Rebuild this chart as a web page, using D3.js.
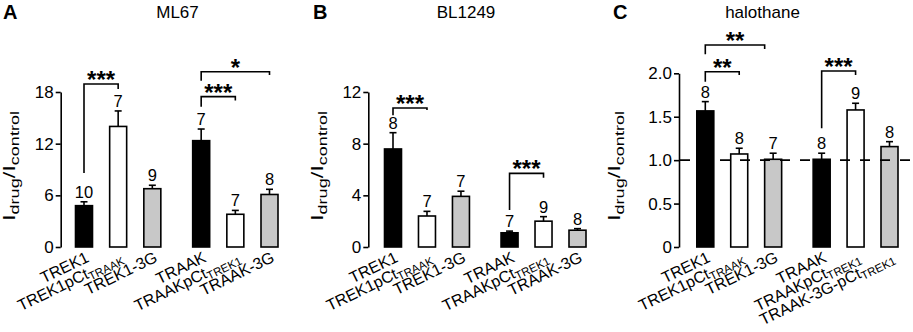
<!DOCTYPE html>
<html><head><meta charset="utf-8">
<script src="https://cdn.jsdelivr.net/npm/d3@7"></script>
<style>
body{margin:0;background:#fff;}
svg{display:block;font-family:"Liberation Sans",Arial,sans-serif;}
</style></head>
<body><svg id="c" width="913" height="332"></svg>
<script>
// ---- data ----
const labelMain = ["TREK1","TREK1pCt","TREK1-3G","TRAAK","TRAAKpCt","TRAAK-3G"];
const labelSubAB = ["","TRAAK","","","TREK1",""];
const labelMainC = ["TREK1","TREK1pCt","TREK1-3G","TRAAK","TRAAKpCt","TRAAK-3G-pCt"];
const labelSubC = ["","TRAAK","","","TREK1","TREK1"];
const fills = ["#000","#fff","#c8c8c8","#000","#fff","#c8c8c8"];

const mlValues = [4.8, 14.0, 6.77, 12.35, 3.8, 6.1];
const mlErrors = [0.45, 1.8, 0.4, 1.35, 0.45, 0.6];
const mlN = [10, 7, 9, 7, 7, 8];
const mlTicks = [0, 6, 12, 18];
const mlTickLabels = ["0","6","12","18"];
const mlBrackets = [
  {from:0, to:1, y:18.93, left:8.6, right:18.35, stars:"***"},
  {from:3, to:4, y:17.46, left:16.3, right:17.0, stars:"***"},
  {from:3, to:5, y:20.36, left:19.3, right:19.97, stars:"*"}
];

const blValues = [7.59, 2.4, 3.92, 1.1, 2.0, 1.3];
const blErrors = [1.26, 0.36, 0.4, 0.13, 0.35, 0.12];
const blN = [8, 7, 7, 7, 9, 8];
const blTicks = [0, 4, 8, 12];
const blTickLabels = ["0","4","8","12"];
const blBrackets = [
  {from:0, to:1, y:10.76, left:10.2, right:10.6, stars:"***"},
  {from:3, to:4, y:5.7, left:2.86, right:5.36, stars:"***"}
];

const haloValues = [1.567, 1.071, 1.01, 1.01, 1.578, 1.156];
const haloErrors = [0.107, 0.066, 0.07, 0.07, 0.077, 0.057];
const haloN = [8, 8, 7, 8, 9, 8];
const haloTicks = [0, 0.5, 1.0, 1.5, 2.0];
const haloTickLabels = ["0","0.5","1.0","1.5","2.0"];
const haloBrackets = [
  {from:0, to:1.75, y:2.326, left:2.22, right:2.28, stars:"**"},
  {from:0, to:1, y:2.018, left:1.903, right:1.98, stars:"**"},
  {from:3, to:4, y:2.026, left:1.367, right:1.98, stars:"***"}
];
const haloRef = 1.0;

// ---- drawing ----
const svg = d3.select("#c");
const FONT = '"Liberation Sans",Arial,sans-serif';
const GROUP_GAP = 0.43;
const pos = i => i + (i >= 3 ? GROUP_GAP : 0);
const bracketPos = i => i + (i >= 2.9 ? GROUP_GAP : 0);

function panel(cfg){
  const g = svg.append("g");
  const y = d3.scaleLinear().domain([0, cfg.ticks[cfg.ticks.length-1]]).range([247, cfg.yTop]);
  const x = d3.scaleLinear().domain([0, pos(5)]).range([cfg.x0, cfg.x5]);
  const bw = 17;

  // letter and title
  g.append("text").attr("x", cfg.letterX).attr("y", 18.5).attr("font-size", 20)
    .attr("font-weight", "bold").text(cfg.letter);
  g.append("text").attr("x", cfg.titleX).attr("y", 17.5).attr("font-size", 17)
    .attr("text-anchor", "middle").text(cfg.title);

  // axis
  const ax = g.append("g").attr("transform", `translate(${cfg.axisX},0)`)
    .call(d3.axisLeft(y).tickValues(cfg.ticks).tickFormat((d,i)=>cfg.tickLabels[i])
      .tickSize(5).tickSizeOuter(0).tickPadding(2));
  ax.select(".domain").attr("stroke-width", 1.6);
  ax.selectAll(".tick line").attr("stroke-width", 1.6);
  ax.selectAll(".tick text").attr("font-size", 17).attr("font-family", FONT).attr("fill","#000");

  // y label
  const yl = g.append("text")
    .attr("transform", `translate(${cfg.axisX - cfg.ylOff},166) rotate(-90)`)
    .attr("text-anchor", "middle").attr("font-size", 17)
    .attr("textLength", 110).attr("lengthAdjust", "spacingAndGlyphs");
  yl.append("tspan").text("I");
  yl.append("tspan").attr("font-size", 13).attr("baseline-shift", "-4").text("drug");
  yl.append("tspan").text("/I");
  yl.append("tspan").attr("font-size", 13).attr("baseline-shift", "-4").text("control");

  const idx = d3.range(6);
  // bars
  g.selectAll("rect.bar").data(idx).join("rect")
    .attr("x", i => x(pos(i)) - bw/2).attr("width", bw)
    .attr("y", i => y(cfg.values[i])).attr("height", i => y(0) - y(cfg.values[i]))
    .attr("fill", i => fills[i]).attr("stroke", "#000").attr("stroke-width", 1.6);
  // error bars
  idx.forEach(i => {
    const cx = x(pos(i)), yt = y(cfg.values[i] + cfg.errors[i]);
    g.append("line").attr("x1", cx).attr("x2", cx).attr("y1", y(cfg.values[i])).attr("y2", yt)
      .attr("stroke", "#000").attr("stroke-width", 1.6);
    g.append("line").attr("x1", cx-3.5).attr("x2", cx+3.5).attr("y1", yt).attr("y2", yt)
      .attr("stroke", "#000").attr("stroke-width", 1.6);
    g.append("text").attr("x", cx).attr("y", yt - 4).attr("text-anchor", "middle")
      .attr("font-size", 16.5).text(cfg.n[i]);
  });

  // reference line
  if (cfg.ref !== undefined) {
    g.append("line").attr("x1", cfg.axisX + 1).attr("x2", 913)
      .attr("y1", y(cfg.ref)).attr("y2", y(cfg.ref))
      .attr("stroke", "#000").attr("stroke-width", 1.6).attr("stroke-dasharray", "10,10");
  }

  // x labels
  idx.forEach(i => {
    const cx = x(pos(i));
    const t = g.append("text")
      .attr("transform", `translate(${cx + 6},261) rotate(-26)`)
      .attr("text-anchor", "end").attr("font-size", 16);
    t.append("tspan").text(cfg.labels[i]);
    if (cfg.subs[i]) t.append("tspan").attr("font-size", 11.5).attr("baseline-shift", "-3").text(cfg.subs[i]);
  });

  // significance brackets
  cfg.brackets.forEach(b => {
    const xl = x(bracketPos(b.from)), xr = x(bracketPos(b.to));
    g.append("path")
      .attr("d", `M${xl},${y(b.left)}V${y(b.y)}H${xr}V${y(b.right)}`)
      .attr("fill", "none").attr("stroke", "#000").attr("stroke-width", 1.6);
    g.append("text").attr("x", (xl + xr) / 2).attr("y", y(b.y) + 4)
      .attr("text-anchor", "middle").attr("font-size", 24).attr("font-weight", "bold")
      .text(b.stars);
  });
}

panel({letter:"A", letterX:3, title:"ML67", titleX:177.5, axisX:60.7, ylOff:46,
  yTop:92, x0:84, x5:269.5, ticks:mlTicks, tickLabels:mlTickLabels,
  values:mlValues, errors:mlErrors, n:mlN, brackets:mlBrackets,
  labels:labelMain, subs:labelSubAB});
panel({letter:"B", letterX:313, title:"BL1249", titleX:466, axisX:368.3, ylOff:45.5,
  yTop:92, x0:393, x5:577.5, ticks:blTicks, tickLabels:blTickLabels,
  values:blValues, errors:blErrors, n:blN, brackets:blBrackets,
  labels:labelMain, subs:labelSubAB});
panel({letter:"C", letterX:613, title:"halothane", titleX:762.5, axisX:679, ylOff:59,
  yTop:73.3, x0:705.3, x5:889.5, ticks:haloTicks, tickLabels:haloTickLabels,
  values:haloValues, errors:haloErrors, n:haloN, brackets:haloBrackets,
  labels:labelMainC, subs:labelSubC, ref:haloRef});
</script></body></html>
